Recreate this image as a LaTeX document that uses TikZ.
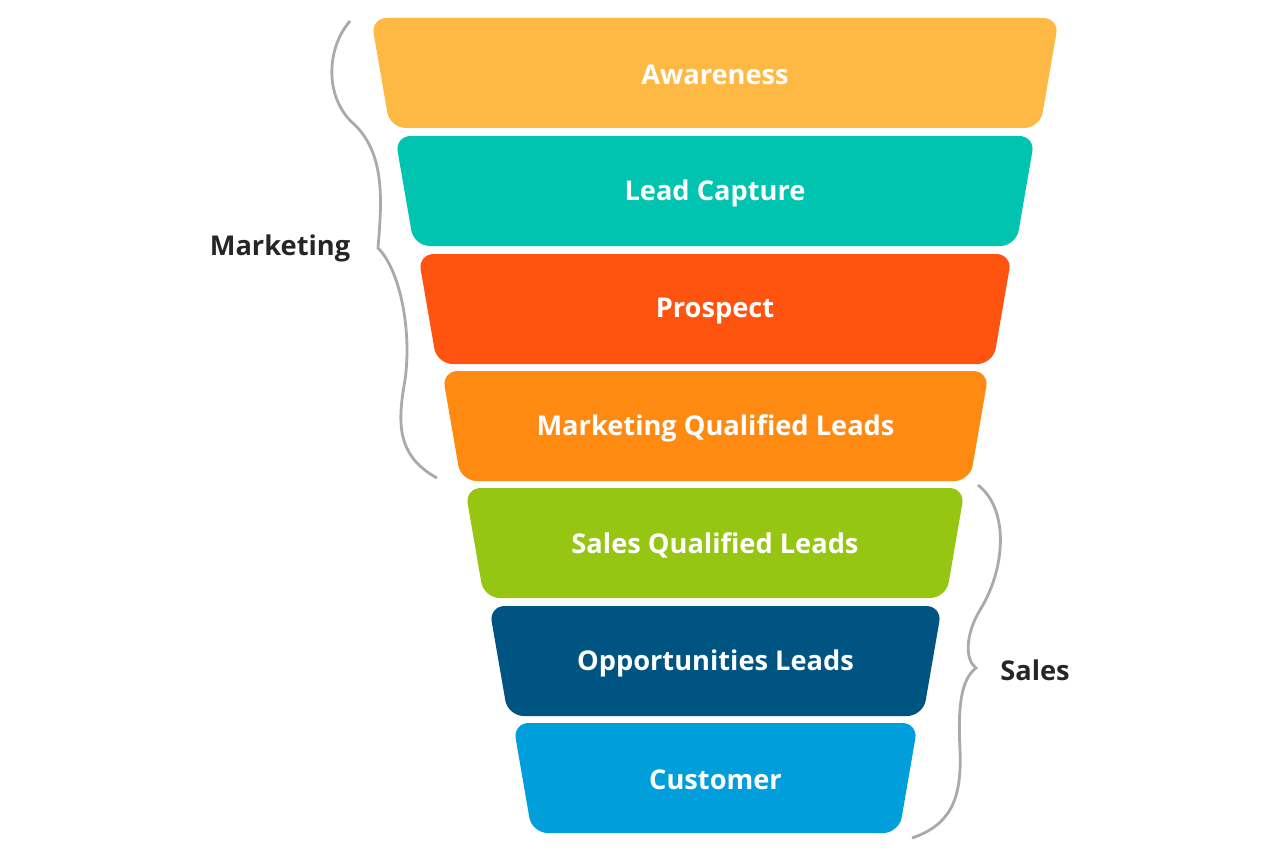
\documentclass[tikz,border=0pt]{standalone}
\usepackage{fontspec}
\setmainfont{Open Sans}
\usepackage{tikz}
\usetikzlibrary{calc}
\definecolor{awareness}{HTML}{FDB943}
\definecolor{leadcap}{HTML}{00C4B0}
\definecolor{prospect}{HTML}{FF5410}
\definecolor{mql}{HTML}{FF8A12}
\definecolor{sql}{HTML}{96C612}
\definecolor{opps}{HTML}{005482}
\definecolor{customer}{HTML}{009FDB}
\definecolor{bracegray}{HTML}{AAAAAA}
\tikzset{
    stage/.style={rounded corners=9pt, draw=none},
    stagetext/.style={text=white, font=\fontsize{15.5}{18}\selectfont\bfseries},
    sidetext/.style={text=black!85, font=\fontsize{15.5}{18}\selectfont\bfseries},
    brace/.style={draw=bracegray, line width=1.6pt}}

\begin{document}
\begin{tikzpicture}[x=0.02cm, y=-0.02cm]
\useasboundingbox (0,0) rectangle (1280,851);

% funnel stages: top y / top left x / top right x / colour / name / text
\foreach \ty/\xl/\xr/\col/\nm/\txt in {
    18/371/1059/awareness/aware/Awareness,
    136/395/1035/leadcap/lead/Lead Capture,
    254/418/1012/prospect/prosp/Prospect,
    371/442/989/mql/mql/Marketing Qualified Leads,
    488/465/965/sql/sql/Sales Qualified Leads,
    606/489/942/opps/opps/Opportunities Leads,
    723/513/918/customer/cust/Customer}{
  \fill[stage, \col] (\xl,\ty) -- (\xr,\ty) -- ({\xr-19},{\ty+110}) -- ({\xl+19},{\ty+110}) -- cycle;
  \node[stagetext] (\nm) at ({(\xl+\xr)/2},{\ty+57}) {\txt};
}

% braces
\draw[brace] (350,21) .. controls (325,50) and (325,100) .. (355,125)
    .. controls (385,155) and (382,200) .. (378,248)
    .. controls (400,270) and (412,330) .. (405,380)
    .. controls (398,420) and (395,455) .. (437,478);
\draw[brace] (978,485) .. controls (1010,510) and (1005,570) .. (980,610)
    .. controls (965,635) and (965,660) .. (976,668)
    .. controls (960,680) and (958,710) .. (960,750)
    .. controls (962,800) and (950,825) .. (912,838);

\node[sidetext] (mkt) at (280,248) {Marketing};
\node[sidetext] (sales) at (1035,670) {Sales};
\end{tikzpicture}
\end{document}
